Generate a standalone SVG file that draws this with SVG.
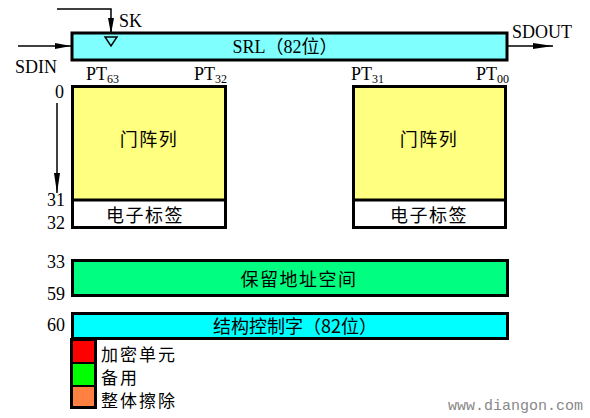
<svg xmlns="http://www.w3.org/2000/svg" width="590" height="418" viewBox="0 0 590 418">
<style>
.t{font-family:"Liberation Serif","DejaVu Serif","Times New Roman","Noto Sans CJK SC",serif;font-size:18px;fill:#000}
.c{font-family:"Noto Sans CJK SC","Liberation Serif",sans-serif;font-size:18px;letter-spacing:1.5px;fill:#000}
.lg{font-size:17px;letter-spacing:2px}
.s{font-size:12px}
.box{stroke:#000;stroke-width:3}
.ln{stroke:#000;stroke-width:1.5;fill:none}
</style>
<defs>
<marker id="ah" viewBox="0 0 16 6" refX="16" refY="3" markerWidth="16" markerHeight="6" markerUnits="userSpaceOnUse" orient="auto">
<path d="M0,0 L16,3 L0,6 Z" fill="#000"/>
</marker>
<marker id="ahl" viewBox="0 0 20 6" refX="20" refY="3" markerWidth="20" markerHeight="6" markerUnits="userSpaceOnUse" orient="auto">
<path d="M0,0 L20,3 L0,6 Z" fill="#000"/>
</marker>
</defs>
<rect width="590" height="418" fill="#fff"/>
<g id="connectors">
<path class="ln" d="M57,9 H111 V34" marker-end="url(#ah)"/>
<path class="ln" d="M18,46 H71" marker-end="url(#ah)"/>
<path class="ln" d="M508,46 H553" marker-end="url(#ahl)"/>
<path class="ln" d="M57,103 V193" marker-end="url(#ahl)"/>
</g>
<g id="srl">
<rect class="box" x="72" y="33" width="435" height="27" fill="#80FFFF"/>
<path d="M105,37 L117,37 L111,46 Z" fill="none" stroke="#000" stroke-width="1.5"/>
<text class="t" x="285" y="53" text-anchor="middle">SRL（82位）</text>
</g>
<g id="labels">
<text class="t" x="119" y="27">SK</text>
<text class="t" x="15" y="73">SDIN</text>
<text class="t" x="512" y="38">SDOUT</text>
<text class="t" x="86" y="80">PT<tspan class="s" dy="3">63</tspan></text>
<text class="t" x="194" y="80">PT<tspan class="s" dy="3">32</tspan></text>
<text class="t" x="351" y="80">PT<tspan class="s" dy="3">31</tspan></text>
<text class="t" x="476" y="80">PT<tspan class="s" dy="3">00</tspan></text>
<text class="t" x="64" y="98" text-anchor="end">0</text>
<text class="t" x="65" y="206" text-anchor="end">31</text>
<text class="t" x="65" y="229" text-anchor="end">32</text>
<text class="t" x="65" y="268" text-anchor="end">33</text>
<text class="t" x="65" y="300" text-anchor="end">59</text>
<text class="t" x="65" y="331" text-anchor="end">60</text>
</g>
<g id="block-left">
<rect class="box" x="72.5" y="86.5" width="153" height="141" fill="#fff"/>
<rect x="74" y="88" width="150" height="111" fill="#FFFF80"/>
<line x1="72" y1="200" x2="226" y2="200" stroke="#000" stroke-width="3"/>
<text class="c" x="149" y="146" text-anchor="middle">门阵列</text>
<text class="c" x="145" y="222" text-anchor="middle">电子标签</text>
</g>
<g id="block-right">
<rect class="box" x="353.5" y="86.5" width="152" height="141" fill="#fff"/>
<rect x="355" y="88" width="149" height="111" fill="#FFFF80"/>
<line x1="353" y1="200" x2="506" y2="200" stroke="#000" stroke-width="3"/>
<text class="c" x="429" y="146" text-anchor="middle">门阵列</text>
<text class="c" x="429" y="222" text-anchor="middle">电子标签</text>
</g>
<g id="reserved">
<rect class="box" x="72.5" y="260.5" width="435" height="35" fill="#00FF80"/>
<text class="c" x="299" y="286" text-anchor="middle">保留地址空间</text>
</g>
<g id="control">
<rect class="box" x="72.5" y="313.5" width="435" height="25" fill="#00FFFF"/>
<text class="c" x="295" y="333" text-anchor="middle" style="letter-spacing:0">结构控制字（82位）</text>
</g>
<g id="legend">
<rect x="70" y="338" width="27" height="71" fill="#000"/>
<rect x="73" y="341" width="21" height="21" fill="#FF0000"/>
<rect x="73" y="364" width="21" height="21" fill="#00FF00"/>
<rect x="73" y="387" width="21" height="19" fill="#FF8040"/>
<text class="c lg" x="101" y="361">加密单元</text>
<text class="c lg" x="101" y="384">备用</text>
<text class="c lg" x="101" y="407">整体擦除</text>
</g>
<text x="583" y="410" text-anchor="end" font-family="Liberation Mono,monospace" font-size="15" fill="#888">www.diangon.com</text>
</svg>
